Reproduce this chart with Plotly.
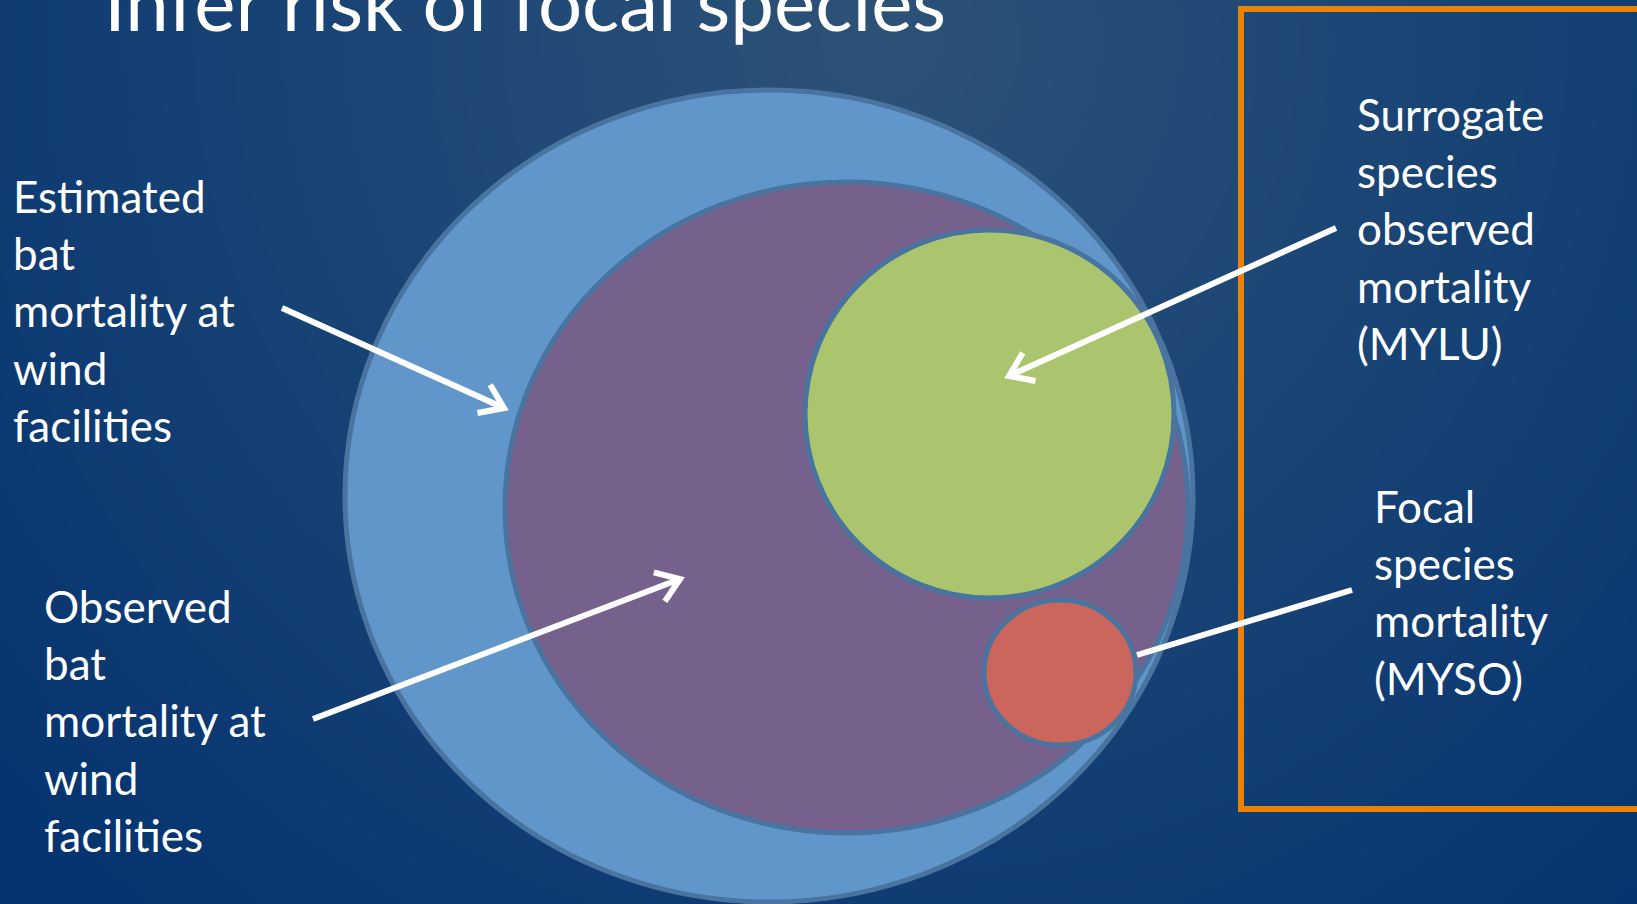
import numpy as np
import plotly.graph_objects as go

W, H = 1637, 904

# Nested mortality sets: (name, x-left, x-right, y-top, y-bottom, fill)
set_names = ["estimated", "observed", "surrogate", "focal"]
set_x0 = [345, 505, 805, 984]
set_x1 = [1193, 1188, 1174, 1136]
set_y0 = [90, 182, 230, 600]
set_y1 = [902, 833, 598, 745]
set_fill = ["#6096c9", "#76608c", "#abc46e", "#cb665d"]
edge_color = "#4a74a0"

# Label text blocks and their anchor points (left edge, first baseline)
label_text = [
    "Estimated<br>bat<br>mortality at<br>wind<br>facilities",
    "Observed<br>bat<br>mortality at<br>wind<br>facilities",
    "Surrogate<br>species<br>observed<br>mortality<br>(MYLU)",
    "Focal<br>species<br>mortality<br>(MYSO)",
]
label_x = [13, 44, 1357, 1374]
label_base = [212, 622, 130, 522]

# Pointers: start -> end, and whether an arrow head is drawn
ptr_x0 = [282, 313, 1336, 1352]
ptr_y0 = [308, 719, 228, 590]
ptr_x1 = [504, 680, 1009, 1137]
ptr_y1 = [408, 579, 376, 655]
ptr_head = [True, True, True, False]

title_text = "Infer risk of focal species"
title_x, title_base = 104, 29

fig = go.Figure()

# soft radial background glow
gx = np.linspace(-20, W + 20, 60)
gy = np.linspace(-20, H + 20, 40)
GX, GY = np.meshgrid(gx, gy)
dist = np.sqrt((GX - 880) ** 2 + (GY - 40) ** 2)
z = np.clip(dist / 1150.0, 0, 1)
fig.add_trace(go.Heatmap(
    x=gx, y=gy, z=z, zmin=0, zmax=1, zsmooth="best", showscale=False,
    hoverinfo="skip",
    colorscale=[[0, "#2d5277"], [0.45, "#1a4575"], [1, "#063470"]],
))

shapes = []
for x0, x1, y0, y1, fc in zip(set_x0, set_x1, set_y0, set_y1, set_fill):
    shapes.append(dict(type="circle", xref="x", yref="y", x0=x0, x1=x1,
                       y0=y0, y1=y1, fillcolor=fc,
                       line=dict(color=edge_color, width=5), layer="above"))

# orange frame on the right
shapes.append(dict(type="rect", xref="x", yref="y", x0=1241, x1=1700, y0=9, y1=809,
                   line=dict(color="#ee8200", width=6), fillcolor="rgba(0,0,0,0)",
                   layer="above"))

arm, ang = 27.0, np.deg2rad(35)
for x0, y0, x1, y1, head in zip(ptr_x0, ptr_y0, ptr_x1, ptr_y1, ptr_head):
    shapes.append(dict(type="line", xref="x", yref="y", x0=x0, y0=y0, x1=x1, y1=y1,
                       line=dict(color="white", width=6), layer="above"))
    if head:
        th = np.arctan2(y0 - y1, x0 - x1)
        ax1 = x1 + arm * np.cos(th + ang)
        ay1 = y1 + arm * np.sin(th + ang)
        ax2 = x1 + arm * np.cos(th - ang)
        ay2 = y1 + arm * np.sin(th - ang)
        shapes.append(dict(type="path", xref="x", yref="y",
                           path=f"M {ax1:.1f},{ay1:.1f} L {x1},{y1} L {ax2:.1f},{ay2:.1f}",
                           line=dict(color="white", width=6), layer="above"))

annotations = []
fs = 44
for t, x, b in zip(label_text, label_x, label_base):
    annotations.append(dict(text=t, x=x - 2, y=b - 0.95 * fs - 2.5, xref="x", yref="y",
                            xanchor="left", yanchor="top", align="left",
                            showarrow=False,
                            font=dict(family="Lato", size=fs, color="white")))
tfs = 78
annotations.append(dict(text=title_text, x=title_x - 2, y=title_base + 0.27 * tfs,
                        xref="x", yref="y", xanchor="left", yanchor="bottom",
                        align="left", showarrow=False,
                        font=dict(family="Lato", size=tfs, color="white")))

fig.update_layout(
    width=W, height=H, margin=dict(l=0, r=0, t=0, b=0),
    paper_bgcolor="#0b3972", plot_bgcolor="#0b3972",
    xaxis=dict(range=[0, W], visible=False, fixedrange=True),
    yaxis=dict(range=[H, 0], visible=False, fixedrange=True),
    shapes=shapes, annotations=annotations, showlegend=False,
)

fig.write_html("out.html", config={"displayModeBar": False})
